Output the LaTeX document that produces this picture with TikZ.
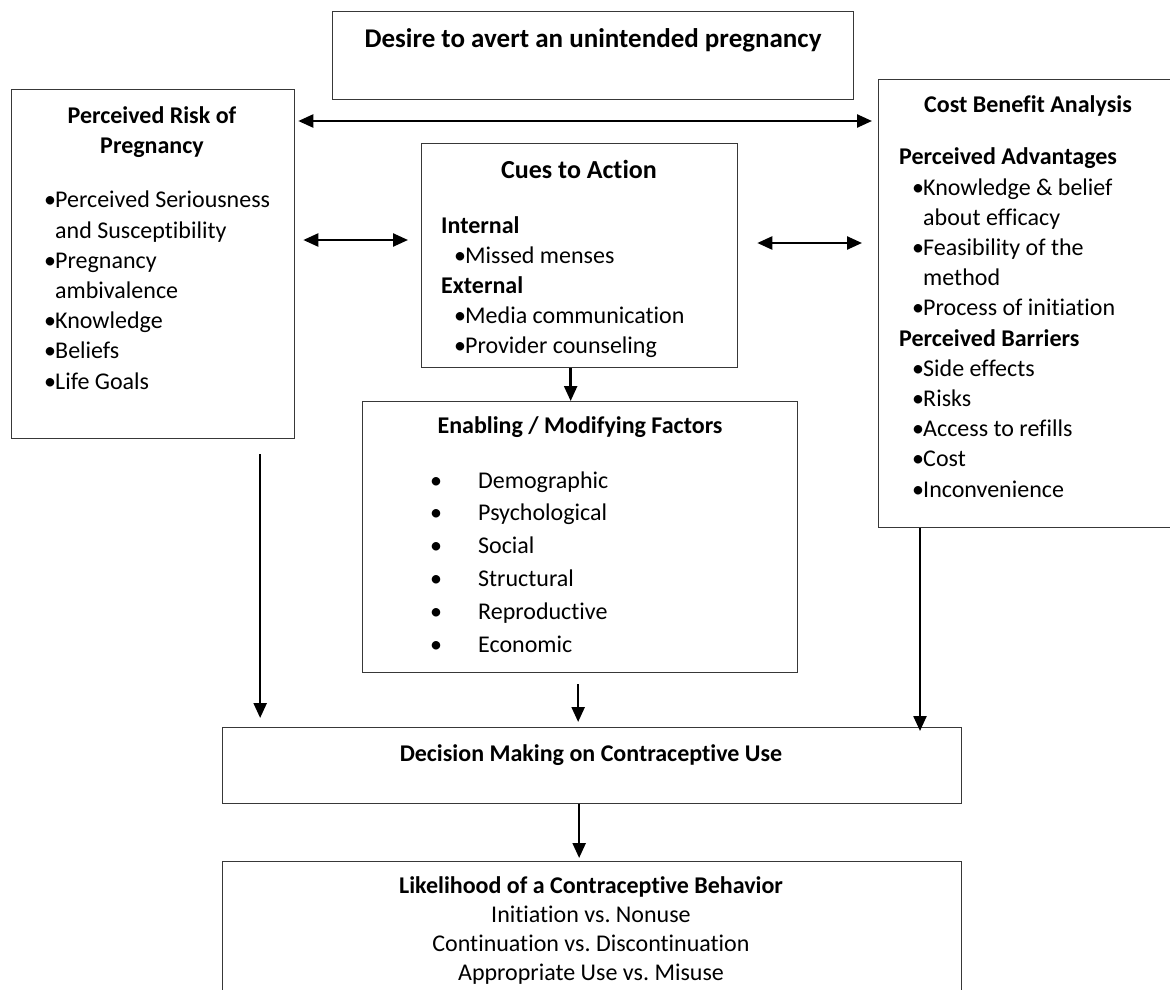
\documentclass[tikz,border=0pt]{standalone}
\usepackage{fontspec}
\setmainfont{Carlito}[Ligatures=NoCommon]
\frenchspacing
\usetikzlibrary{calc,arrows.meta}

\tikzset{
  box/.style={draw=black!78, line width=1.3pt, anchor=north west, inner sep=0pt},
  txt/.style={anchor=base west, align=left, inner sep=0pt, font=\fontsize{24}{30.2}\selectfont},
  ttl/.style={anchor=base, align=center, inner sep=0pt, font=\bfseries\fontsize{24}{30}\selectfont},
  arr/.style={line width=2.4pt, -{Triangle[length=15pt,width=13pt]}},
  biarr/.style={line width=2.4pt, {Triangle[length=15pt,width=13pt]}-{Triangle[length=15pt,width=13pt]}}
}
\newcommand{\bul}{\makebox[11pt][l]{\textbullet}}

\begin{document}
\begin{tikzpicture}[x=1pt,y=-1pt]
  \useasboundingbox (0,0) rectangle (1170,990);
  \node[box, minimum width=521pt, minimum height=88pt] (desire) at (332,11) {};
  \node[box, minimum width=283pt, minimum height=349pt] (risk) at (11,89) {};
  \node[box, minimum width=316pt, minimum height=224pt] (cues) at (421,143) {};
  \node[box, minimum width=300pt, minimum height=448pt] (cost) at (878,79) {};
  \node[box, minimum width=435pt, minimum height=271pt] (enab) at (362,401) {};
  \node[box, minimum width=739pt, minimum height=76pt] (decide) at (222,727) {};
  \node[box, minimum width=739pt, minimum height=140pt] (likely) at (222,861) {};

  \node[ttl, font=\bfseries\fontsize{27}{30}\selectfont] (desiret) at (593,48) {Desire to avert an unintended pregnancy};

  \node[ttl] (riskt) at (152,153) {Perceived Risk of\\Pregnancy};
  \node[txt] (riskl) at (44,389) {\bul Perceived Seriousness\\\hspace*{11pt}and Susceptibility\\\bul Pregnancy\\\hspace*{11pt}ambivalence\\\bul Knowledge\\\bul Beliefs\\\bul Life Goals};

  \node[ttl, font=\bfseries\fontsize{26}{30}\selectfont] (cuest) at (579,178) {Cues to Action};
  \node[txt, font=\fontsize{24}{30}\selectfont] (cuesl) at (441,353) {\textbf{Internal}\\\hspace*{13pt}\bul Missed menses\\\textbf{External}\\\hspace*{13pt}\bul Media communication\\\hspace*{13pt}\bul Provider counseling};

  \node[ttl] (costt) at (1028,112) {Cost Benefit Analysis};
  \node[txt] (costl) at (899,497) {\textbf{Perceived Advantages}\\\hspace*{13pt}\bul Knowledge \& belief\\\hspace*{24pt}about efficacy\\\hspace*{13pt}\bul Feasibility of the\\\hspace*{24pt}method\\\hspace*{13pt}\bul Process of initiation\\\textbf{Perceived Barriers}\\\hspace*{13pt}\bul Side effects\\\hspace*{13pt}\bul Risks\\\hspace*{13pt}\bul Access to refills\\\hspace*{13pt}\bul Cost\\\hspace*{13pt}\bul Inconvenience};

  \node[ttl] (enabt) at (580,433) {Enabling / Modifying Factors};
  \node[txt, font=\fontsize{24}{32.8}\selectfont] (enabl) at (430,652) {\makebox[48pt][l]{\textbullet}Demographic\\\makebox[48pt][l]{\textbullet}Psychological\\\makebox[48pt][l]{\textbullet}Social\\\makebox[48pt][l]{\textbullet}Structural\\\makebox[48pt][l]{\textbullet}Reproductive\\\makebox[48pt][l]{\textbullet}Economic};

  \node[ttl] (decidet) at (591,761) {Decision Making on Contraceptive Use};

  \node[ttl] (likelyt) at (591,893) {Likelihood of a Contraceptive Behavior};
  \node[ttl, font=\fontsize{24}{29}\selectfont] (likelyl) at (591,980) {Initiation vs. Nonuse\\Continuation vs. Discontinuation\\Appropriate Use vs. Misuse};

  \coordinate (leftfoot) at ($(risk.south)+(107,15)$);
  \coordinate (midfoot) at ($(enab.south)+(-2,11)$);
  \coordinate (rightfoot) at ($(cost.south west)+(42,0)$);
  \coordinate (cuesfoot) at ($(cues.south)+(-9,0)$);
  \coordinate (decidefoot) at ($(decide.south)+(-13,0)$);

  \draw[biarr] ($(risk.north east)+(3,32)$) -- ($(cost.north west)+(-6,42)$);
  \draw[biarr] ($(risk.north east)+(8,151)$) -- ($(cues.north west)+(-13,97)$);
  \draw[biarr] ($(cues.north east)+(19,100)$) -- ($(cost.north west)+(-16,164)$);
  \draw[arr] (cuesfoot) -- (cuesfoot |- enab.north);
  \draw[arr] (leftfoot) -- ($(leftfoot |- decide.north)+(0,-9)$);
  \draw[arr] (midfoot) -- ($(midfoot |- decide.north)+(0,-5)$);
  \draw[arr] (rightfoot) -- ($(rightfoot |- decide.north)+(0,4)$);
  \draw[arr] (decidefoot) -- ($(decidefoot |- likely.north)+(0,-3)$);
\end{tikzpicture}
\end{document}
